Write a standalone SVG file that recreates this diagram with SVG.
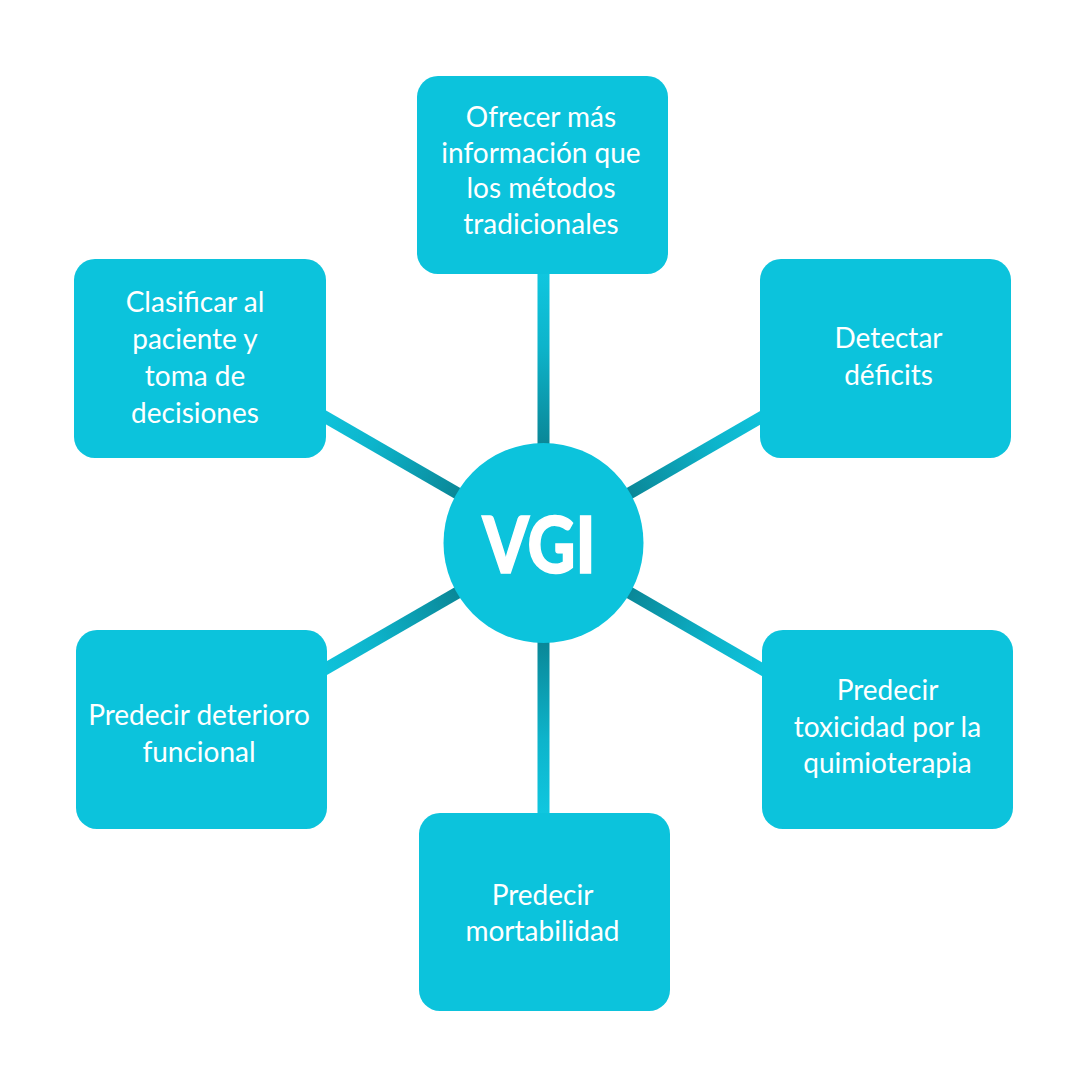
<svg xmlns="http://www.w3.org/2000/svg" width="1088" height="1088" viewBox="0 0 1088 1088">
  <defs>
    <linearGradient id="conn" x1="0" y1="0" x2="0" y2="1">
      <stop offset="0" stop-color="#10c9e2"/>
      <stop offset="0.45" stop-color="#0db4cb"/>
      <stop offset="1" stop-color="#0a8595"/>
    </linearGradient>
    <style>
      .box { fill: #0cc3dc; }
      .lbl { font-family: Lato, "Open Sans", "Liberation Sans", sans-serif; font-size: 28px; fill: #ffffff; text-anchor: middle; }
      .conn { fill: url(#conn); }
    </style>
  </defs>
  <rect width="1088" height="1088" fill="#ffffff"/>

  <g id="connectors" transform="translate(543.5,543)">
    <rect class="conn" x="-6" y="-280" width="12" height="185" transform="rotate(0)"/>
    <rect class="conn" x="-6" y="-280" width="12" height="185" transform="rotate(60)"/>
    <rect class="conn" x="-6" y="-280" width="12" height="185" transform="rotate(120)"/>
    <rect class="conn" x="-6" y="-280" width="12" height="185" transform="rotate(180)"/>
    <rect class="conn" x="-6" y="-280" width="12" height="185" transform="rotate(240)"/>
    <rect class="conn" x="-6" y="-280" width="12" height="185" transform="rotate(300)"/>
  </g>

  <g id="node-center">
    <circle cx="543.5" cy="543" r="100" fill="#0cc3dc"/>
    <text x="539" y="573" font-family="Lato, 'Open Sans', 'Liberation Sans', sans-serif" font-weight="900" font-size="79" fill="#ffffff" stroke="#ffffff" stroke-width="1.5" text-anchor="middle" textLength="113" lengthAdjust="spacingAndGlyphs">VGI</text>
  </g>

  <g id="node-top">
    <rect class="box" x="417" y="76" width="251" height="198" rx="21"/>
    <text class="lbl" x="541" y="127">Ofrecer más</text>
    <text class="lbl" x="541" y="162.5">información que</text>
    <text class="lbl" x="541" y="198">los métodos</text>
    <text class="lbl" x="541" y="233.5">tradicionales</text>
  </g>

  <g id="node-upper-left">
    <rect class="box" x="74" y="259" width="252" height="199" rx="21"/>
    <text class="lbl" x="195" y="311.5">Clasificar al</text>
    <text class="lbl" x="195" y="348.5">paciente y</text>
    <text class="lbl" x="195" y="385.5">toma de</text>
    <text class="lbl" x="195" y="422.5">decisiones</text>
  </g>

  <g id="node-upper-right">
    <rect class="box" x="760" y="259" width="251" height="199" rx="21"/>
    <text class="lbl" x="888.5" y="348">Detectar</text>
    <text class="lbl" x="888.5" y="384.5">déficits</text>
  </g>

  <g id="node-lower-left">
    <rect class="box" x="76" y="630" width="251" height="199" rx="21"/>
    <text class="lbl" x="199" y="725">Predecir deterioro</text>
    <text class="lbl" x="199" y="761.5">funcional</text>
  </g>

  <g id="node-lower-right">
    <rect class="box" x="762" y="630" width="251" height="199" rx="21"/>
    <text class="lbl" x="887.5" y="700">Predecir</text>
    <text class="lbl" x="887.5" y="736.5">toxicidad por la</text>
    <text class="lbl" x="887.5" y="773">quimioterapia</text>
  </g>

  <g id="node-bottom">
    <rect class="box" x="419" y="813" width="251" height="198" rx="21"/>
    <text class="lbl" x="542.5" y="904.5">Predecir</text>
    <text class="lbl" x="542.5" y="941">mortabilidad</text>
  </g>
</svg>
